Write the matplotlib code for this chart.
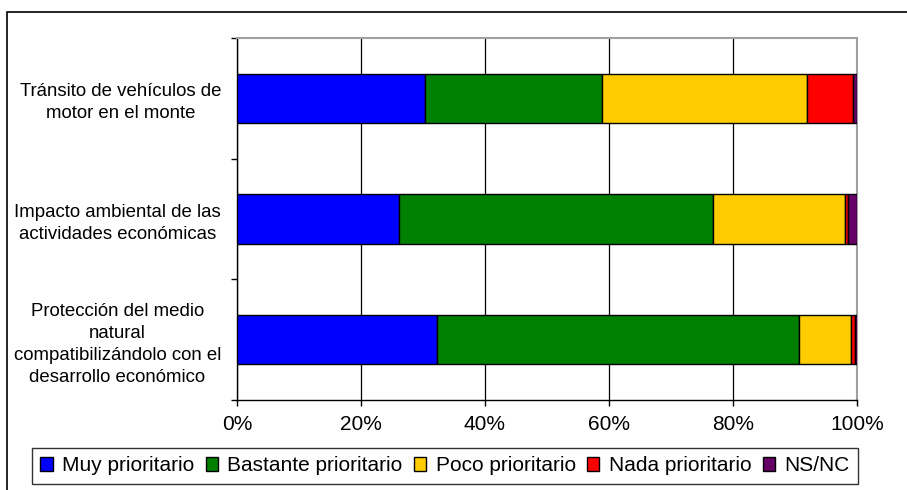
import matplotlib
matplotlib.use("Agg")
import matplotlib.pyplot as plt
from matplotlib.patches import Rectangle
from matplotlib.ticker import FuncFormatter

plt.rcParams['font.family'] = ['Liberation Sans', 'DejaVu Sans']

# data (percent of answers)
categories = [
    'Tránsito de vehículos de\nmotor en el monte',
    'Impacto ambiental de las\nactividades económicas',
    'Protección del medio\nnatural\ncompatibilizándolo con el\ndesarrollo económico',
]
series_names = ['Muy prioritario', 'Bastante prioritario', 'Poco prioritario',
                'Nada prioritario', 'NS/NC']
muy = [30.3, 26.2, 32.3]
bastante = [28.5, 50.6, 58.4]
poco = [33.2, 21.2, 8.3]
nada = [7.3, 0.5, 0.6]
nsnc = [0.7, 1.5, 0.4]
xticks = [0, 20, 40, 60, 80, 100]

colors = ['#0000FF', '#008000', '#FFCC00', '#FF0000', '#660066']

fig = plt.figure(figsize=(9.07, 4.9), dpi=100)
ax = fig.add_axes([237 / 907, 1 - 400 / 490, 620 / 907, 362 / 490])

ypos = list(range(len(categories)))
left = [0.0] * len(categories)
for name, vals, col in zip(series_names, [muy, bastante, poco, nada, nsnc], colors):
    ax.barh(ypos, vals, left=left, height=0.41, color=col, edgecolor='black',
            linewidth=1.0, label=name, zorder=3)
    left = [l + v for l, v in zip(left, vals)]

ax.set_xlim(0, 100)
ax.set_ylim(2.5, -0.5)
ax.set_xticks(xticks)
ax.xaxis.set_major_formatter(FuncFormatter(lambda v, p: f'{v:.0f}%'))
ax.tick_params(axis='x', labelsize=15, length=4.5, width=1, direction='out', pad=6)
ax.grid(axis='x', color='black', linewidth=0.9, zorder=0)

ax.set_yticks([-0.5, 0.5, 1.5, 2.5])
ax.set_yticklabels([])
ax.tick_params(axis='y', which='major', length=4.5, width=1, direction='out')
ax.set_yticks(ypos, minor=True)
ax.set_yticklabels(categories, minor=True, fontsize=13.4, ha='right',
                   multialignment='center', linespacing=1.38)
ax.tick_params(axis='y', which='minor', length=0, pad=11.5)

for s in ['top', 'right']:
    ax.spines[s].set_color('#a0a0a0')
    ax.spines[s].set_linewidth(1.5)
for s in ['left', 'bottom']:
    ax.spines[s].set_color('black')
    ax.spines[s].set_linewidth(1.0)

# outer chart border (cropped at right and bottom)
fig.patches.append(Rectangle((7 / 907, -0.2), 1.2, 1 - 12 / 490 + 0.2,
                             transform=fig.transFigure, fill=False,
                             edgecolor='black', linewidth=1.2))

leg = fig.legend(loc='upper left',
                 bbox_to_anchor=(32 / 907, 1 - 453 / 490, 826 / 907, 0.01),
                 mode='expand', ncol=5, fontsize=15, frameon=True,
                 fancybox=False, edgecolor='black', borderaxespad=0,
                 handlelength=0.6, handleheight=0.6, handletextpad=0.45,
                 columnspacing=0.5, borderpad=0.4)
leg.get_frame().set_linewidth(1.0)

fig.savefig('out.png', dpi=100)
